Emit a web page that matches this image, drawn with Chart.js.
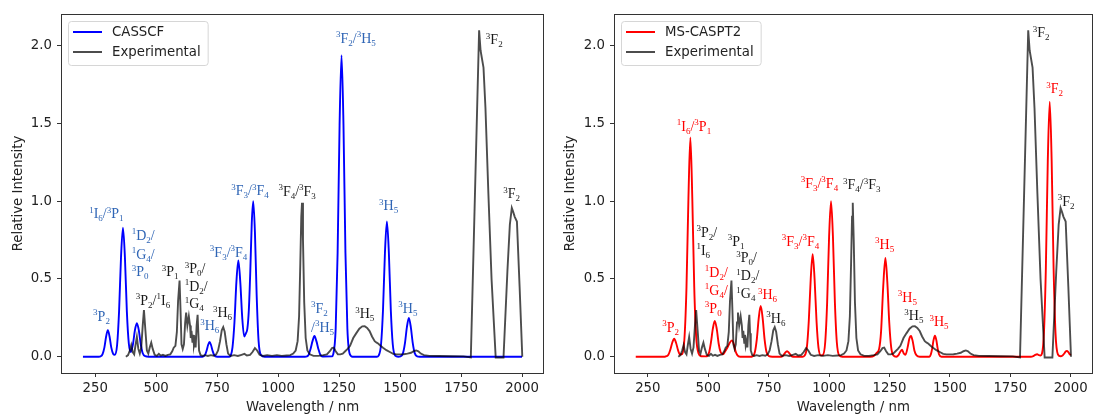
<!DOCTYPE html>
<html>
<head>
<meta charset="utf-8">
<script src="https://cdn.jsdelivr.net/npm/chart.js@4.4.1/dist/chart.umd.min.js"></script>
<style>
  body { margin: 0; background: #fff; }
  #wrap { position: relative; width: 1094px; height: 416px; }
  .panel { position: absolute; top: 0; width: 547px; height: 416px; }
</style>
</head>
<body>
<div id="wrap">
  <div class="panel" style="left:0"><canvas id="leftChart" width="547" height="416"></canvas></div>
  <div class="panel" style="left:547px"><canvas id="rightChart" width="547" height="416"></canvas></div>
</div>
<script>
// wavelength (nm), relative intensity
var expPoints = [
  [376,0.0],[385,0.01],[392,0.04],[398,0.075],[404,0.03],[410,0.015],[416,0.08],[421,0.127],[427,0.05],
  [433,0.02],[439,0.06],[445,0.2],[450,0.30],[456,0.17],[462,0.04],[468,0.02],[474,0.06],[480,0.09],
  [486,0.05],[494,0.012],[503,0.005],[511,0.018],[519,0.006],[528,0.012],[538,0.005],[548,0.012],
  [558,0.015],[566,0.035],[572,0.058],[579,0.07],[585,0.16],[590,0.36],[596,0.49],[600,0.3],[604,0.08],
  [609,0.05],[614,0.08],[619,0.22],[623,0.284],[628,0.2],[634,0.26],[639,0.2],[642,0.12],[645,0.166],
  [649,0.09],[652,0.14],[655,0.07],[659,0.1],[662,0.06],[666,0.2],[670,0.27],[673,0.15],[676,0.04],
  [682,0.01],[690,0.005],[700,0.01],[712,0.005],[724,0.01],[736,0.006],[746,0.015],[754,0.04],[762,0.1],
  [769,0.17],[775,0.19],[781,0.16],[788,0.08],[795,0.02],[805,0.005],[820,0.01],[835,0.005],[850,0.012],
  [862,0.018],[872,0.008],[885,0.012],[895,0.03],[905,0.055],[914,0.04],[924,0.012],[938,0.005],
  [955,0.01],[975,0.005],[995,0.01],[1015,0.005],[1035,0.008],[1050,0.01],[1062,0.02],[1072,0.04],
  [1080,0.1],[1086,0.26],[1091,0.6],[1095,0.9],[1098,0.99],[1102,0.75],[1107,0.35],[1113,0.12],
  [1120,0.04],[1130,0.015],[1145,0.005],[1165,0.005],[1185,0.01],[1200,0.015],[1212,0.035],[1221,0.055],
  [1228,0.058],[1236,0.035],[1245,0.015],[1255,0.015],[1265,0.02],[1275,0.035],[1285,0.05],[1295,0.07],
  [1308,0.12],[1320,0.15],[1333,0.18],[1345,0.195],[1355,0.196],[1365,0.185],[1375,0.165],[1385,0.13],
  [1396,0.1],[1404,0.09],[1410,0.085],[1420,0.07],[1430,0.058],[1444,0.042],[1458,0.03],[1472,0.018],
  [1486,0.015],[1500,0.015],[1515,0.016],[1530,0.02],[1545,0.025],[1556,0.035],[1566,0.04],[1575,0.035],
  [1585,0.02],[1598,0.01],[1620,0.005],[1660,0.004],[1710,0.003],[1760,0.002],[1790,-0.005],[1824,2.1],
  [1830,1.97],[1842,1.86],[1850,1.6],[1862,1.05],[1875,0.5],[1892,-0.005],[1924,-0.005],[1940,0.55],
  [1950,0.85],[1958,0.957],[1964,0.93],[1970,0.9],[1979,0.87],[1990,0.45],[2001,0.0]
];

var casscfPoints = [
  [200,0],[265,0],[272,0.002],[280,0.015],[288,0.06],[295,0.13],[302,0.17],[309,0.13],[316,0.06],
  [324,0.018],[331,0.012],[340,0.075],[348,0.29],[356,0.64],[364,0.83],[372,0.64],[380,0.29],[388,0.085],
  [396,0.03],[405,0.08],[413,0.17],[421,0.215],[429,0.17],[437,0.08],[445,0.022],[455,0.003],[470,0],
  [690,0],[700,0.01],[707,0.04],[713,0.075],[719,0.095],[725,0.075],[731,0.04],[738,0.01],[750,0],
  [800,0],[806,0.008],[813,0.06],[821,0.22],[829,0.48],[837,0.62],[845,0.48],[853,0.25],[861,0.13],
  [868,0.15],[874,0.18],[880,0.3],[886,0.55],[892,0.86],[898,1.0],[905,0.8],[912,0.4],[920,0.1],
  [930,0.01],[945,0],[1110,0],[1118,0.002],[1125,0.012],[1133,0.05],[1141,0.1],[1149,0.133],[1157,0.1],
  [1165,0.05],[1173,0.012],[1183,0.001],[1220,0.002],[1226,0.016],[1236,0.18],[1244,0.67],[1252,1.49],
  [1260,1.94],[1268,1.49],[1276,0.67],[1284,0.18],[1294,0.016],[1305,0],[1405,0],[1412,0.007],
  [1422,0.08],[1430,0.3],[1438,0.67],[1446,0.87],[1454,0.67],[1462,0.3],[1470,0.08],[1480,0.007],
  [1492,0],[1502,0.002],[1512,0.023],[1520,0.087],[1528,0.19],[1536,0.25],[1544,0.19],[1552,0.087],
  [1560,0.023],[1570,0.002],[1580,0],[2000,0]
];

var caspt2Points = [
  [200,0],[320,0],[327,0.003],[335,0.012],[343,0.045],[351,0.09],[359,0.115],[367,0.088],[375,0.042],
  [383,0.014],[392,0.016],[402,0.13],[410,0.45],[418,1.02],[426,1.41],[434,1.02],[442,0.45],[450,0.13],
  [460,0.02],[470,0.003],[490,0.002],[497,0.006],[504,0.03],[511,0.09],[519,0.18],[527,0.23],[535,0.18],
  [543,0.085],[551,0.03],[561,0.015],[570,0.035],[580,0.06],[589,0.09],[598,0.105],[606,0.08],
  [613,0.035],[621,0.008],[632,0],[680,0],[685,0.003],[693,0.03],[701,0.113],[709,0.25],[717,0.327],
  [725,0.25],[733,0.113],[741,0.03],[751,0.003],[765,0],[800,0],[810,0.008],[818,0.025],[826,0.035],
  [834,0.025],[842,0.008],[852,0],[890,0],[898,0.006],[908,0.06],[916,0.23],[924,0.5],[932,0.66],
  [940,0.5],[948,0.23],[956,0.06],[966,0.008],[974,0.01],[984,0.093],[992,0.35],[1000,0.77],[1008,1.0],
  [1016,0.77],[1024,0.35],[1032,0.093],[1042,0.008],[1055,0],[1170,0],[1185,0.005],[1197,0.025],
  [1207,0.05],[1215,0.16],[1224,0.45],[1233,0.635],[1241,0.48],[1249,0.22],[1257,0.06],[1266,0.008],
  [1278,0],[1288,0.012],[1296,0.035],[1302,0.045],[1309,0.02],[1316,0.012],[1325,0.06],[1332,0.115],
  [1339,0.133],[1346,0.1],[1353,0.04],[1362,0.008],[1375,0],[1415,0],[1421,0.015],[1427,0.055],
  [1432,0.105],[1438,0.135],[1444,0.105],[1449,0.055],[1455,0.015],[1465,0],[1835,0],[1845,0.004],
  [1853,0.012],[1861,0.016],[1868,0.01],[1875,0.008],[1881,0.02],[1889,0.15],[1897,0.57],[1905,1.26],
  [1913,1.64],[1921,1.26],[1929,0.57],[1937,0.15],[1947,0.014],[1958,0.003],[1966,0.008],[1973,0.02],
  [1979,0.033],[1984,0.037],[1990,0.03],[1996,0.015],[2000,0.01]
];

var xTicks = [250, 500, 750, 1000, 1250, 1500, 1750, 2000];
var yTicks = [0, 0.5, 1.0, 1.5, 2.0];

var BLUE_TXT = '#2f65b5', RED_TXT = '#ff0000', BLK_TXT = '#1a1a1a';

// peak assignments: text, wavelength, intensity, colour, align
var leftLabels = [
  ['¹I₆/³P₁', 296, 0.92, BLUE_TXT, 'center'],
  ['¹D₂/', 400, 0.78, BLUE_TXT, 'left'],
  ['¹G₄/', 400, 0.66, BLUE_TXT, 'left'],
  ['³P₀', 400, 0.545, BLUE_TXT, 'left'],
  ['³P₂', 276, 0.26, BLUE_TXT, 'center'],
  ['³P₂/¹I₆', 487, 0.362, BLK_TXT, 'center'],
  ['³P₁', 557, 0.545, BLK_TXT, 'center'],
  ['³P₀/', 617, 0.565, BLK_TXT, 'left'],
  ['¹D₂/', 617, 0.452, BLK_TXT, 'left'],
  ['¹G₄', 617, 0.34, BLK_TXT, 'left'],
  ['³H₆', 720, 0.2, BLUE_TXT, 'center'],
  ['³H₆', 772, 0.282, BLK_TXT, 'center'],
  ['³F₃/³F₄', 797, 0.671, BLUE_TXT, 'center'],
  ['³F₃/³F₄', 885, 1.069, BLUE_TXT, 'center'],
  ['³F₄/³F₃', 1078, 1.065, BLK_TXT, 'center'],
  ['³F₂/³H₅', 1319, 2.048, BLUE_TXT, 'center'],
  ['³F₂', 1886, 2.04, BLK_TXT, 'center'],
  ['³F₂', 1957, 1.05, BLK_TXT, 'center'],
  ['³H₅', 1453, 0.972, BLUE_TXT, 'center'],
  ['³F₂', 1135, 0.312, BLUE_TXT, 'left'],
  ['/³H₅', 1135, 0.19, BLUE_TXT, 'left'],
  ['³H₅', 1355, 0.277, BLK_TXT, 'center'],
  ['³H₅', 1532, 0.312, BLUE_TXT, 'center']
];

var rightLabels = [
  ['¹I₆/³P₁', 441, 1.482, RED_TXT, 'center'],
  ['³P₂', 344, 0.19, RED_TXT, 'center'],
  ['³P₂/', 451, 0.8, BLK_TXT, 'left'],
  ['¹I₆', 451, 0.686, BLK_TXT, 'left'],
  ['¹D₂/', 486, 0.542, RED_TXT, 'left'],
  ['¹G₄/', 486, 0.428, RED_TXT, 'left'],
  ['³P₀', 486, 0.312, RED_TXT, 'left'],
  ['³P₁', 615, 0.742, BLK_TXT, 'center'],
  ['³P₀/', 616, 0.635, BLK_TXT, 'left'],
  ['¹D₂/', 616, 0.52, BLK_TXT, 'left'],
  ['¹G₄', 616, 0.406, BLK_TXT, 'left'],
  ['³H₆', 745, 0.398, RED_TXT, 'center'],
  ['³H₆', 780, 0.248, BLK_TXT, 'center'],
  ['³F₃/³F₄', 882, 0.742, RED_TXT, 'center'],
  ['³F₃/³F₄', 960, 1.116, RED_TXT, 'center'],
  ['³F₄/³F₃', 1135, 1.106, BLK_TXT, 'center'],
  ['³F₂', 1877, 2.084, BLK_TXT, 'center'],
  ['³F₂', 1933, 1.725, RED_TXT, 'center'],
  ['³F₂', 1981, 1.0, BLK_TXT, 'center'],
  ['³H₅', 1230, 0.725, RED_TXT, 'center'],
  ['³H₅', 1324, 0.381, RED_TXT, 'center'],
  ['³H₅', 1351, 0.263, BLK_TXT, 'center'],
  ['³H₅', 1455, 0.226, RED_TXT, 'center']
];

var SANS = 'DejaVu Sans';
var SERIF = '"Liberation Serif", "DejaVu Serif", serif';
var SUP = { '¹': '1', '²': '2', '³': '3' };
var SUB = { '₀': '0', '₁': '1', '₂': '2', '₃': '3', '₄': '4', '₅': '5', '₆': '6' };

function toXY(pts) {
  return pts.map(function (p) { return { x: p[0], y: p[1] }; });
}

// draws "³F₂"-style text with real raised / lowered digits
function drawRich(ctx, text, x, y, color, align) {
  var parts = Array.from(text).map(function (ch) {
    if (SUP[ch]) return { s: SUP[ch], dy: -5.5, small: true };
    if (SUB[ch]) return { s: SUB[ch], dy: 3, small: true };
    return { s: ch, dy: 0, small: false };
  });
  var total = 0;
  parts.forEach(function (p) {
    ctx.font = p.small ? '9px ' + SERIF : '14px ' + SERIF;
    p.w = ctx.measureText(p.s).width;
    total += p.w;
  });
  var cx = align === 'left' ? x : x - total / 2;
  ctx.fillStyle = color;
  ctx.textAlign = 'left';
  ctx.textBaseline = 'alphabetic';
  parts.forEach(function (p) {
    ctx.font = p.small ? '9px ' + SERIF : '14px ' + SERIF;
    ctx.fillText(p.s, cx, y + 4.5 + p.dy);
    cx += p.w;
  });
}

var framePlugin = {
  id: 'frame',
  afterDraw: function (chart) {
    var a = chart.chartArea, ctx = chart.ctx;
    ctx.save();
    ctx.strokeStyle = '#333';
    ctx.lineWidth = 1;
    ctx.strokeRect(Math.round(a.left) + 0.5, Math.round(a.top) + 0.5,
      Math.round(a.right - a.left) - 1, Math.round(a.bottom - a.top));
    ctx.restore();
  }
};

var peakLabelPlugin = {
  id: 'peakLabels',
  afterDraw: function (chart, args, opts) {
    var ctx = chart.ctx, xs = chart.scales.x, ys = chart.scales.y;
    ctx.save();
    opts.items.forEach(function (l) {
      drawRich(ctx, l[0], xs.getPixelForValue(l[1]), ys.getPixelForValue(l[2]), l[3], l[4]);
    });
    ctx.restore();
  }
};

// matplotlib-like legend box in the upper left corner
var boxLegendPlugin = {
  id: 'boxLegend',
  afterDraw: function (chart) {
    var ctx = chart.ctx, a = chart.chartArea;
    var sets = chart.data.datasets.slice().sort(function (p, q) { return p.legendRank - q.legendRank; });
    ctx.save();
    ctx.font = '13.3px ' + SANS;
    var tw = 0;
    sets.forEach(function (d) { tw = Math.max(tw, ctx.measureText(d.label).width); });
    var x0 = a.left + 7, y0 = a.top + 7, w = 44 + tw + 7, h = 44;
    ctx.beginPath();
    ctx.roundRect(x0 + 0.5, y0 + 0.5, w, h, 3);
    ctx.fillStyle = 'rgba(255,255,255,0.8)';
    ctx.fill();
    ctx.strokeStyle = '#d6d6d6';
    ctx.lineWidth = 1;
    ctx.stroke();
    sets.forEach(function (d, i) {
      var ly = y0 + 11 + i * 20;
      ctx.beginPath();
      ctx.moveTo(x0 + 5, ly);
      ctx.lineTo(x0 + 34, ly);
      ctx.strokeStyle = d.borderColor;
      ctx.lineWidth = 2;
      ctx.stroke();
      ctx.fillStyle = '#222';
      ctx.textAlign = 'left';
      ctx.textBaseline = 'middle';
      ctx.fillText(d.label, x0 + 44, ly + 1);
    });
    ctx.restore();
  }
};

function makeChart(canvasId, modelLabel, modelPoints, modelColor, labels, yAxisWidth, rightPad, yTitlePad) {
  var ctx = document.getElementById(canvasId).getContext('2d');
  return new Chart(ctx, {
    type: 'line',
    data: {
      datasets: [
        {
          label: 'Experimental',
          data: toXY(expPoints),
          borderColor: 'rgba(0,0,0,0.7)',
          borderWidth: 1.9,
          pointRadius: 0,
          tension: 0,
          order: 0,
          legendRank: 1
        },
        {
          label: modelLabel,
          data: toXY(modelPoints),
          borderColor: modelColor,
          borderWidth: 1.9,
          pointRadius: 0,
          cubicInterpolationMode: 'monotone',
          order: 1,
          legendRank: 0
        }
      ]
    },
    options: {
      responsive: false,
      animation: false,
      devicePixelRatio: 1,
      layout: { padding: { left: 0, right: rightPad, top: 14, bottom: 0 } },
      plugins: {
        legend: { display: false },
        tooltip: { enabled: false },
        peakLabels: { items: labels }
      },
      scales: {
        x: {
          type: 'linear',
          min: 110,
          max: 2090,
          afterBuildTicks: function (scale) {
            scale.ticks = xTicks.map(function (v) { return { value: v }; });
          },
          afterFit: function (scale) { scale.height = 43; },
          grid: { drawOnChartArea: false, drawTicks: true, tickLength: 4, color: '#333' },
          border: { display: false },
          ticks: {
            color: '#222', font: { family: SANS, size: 13.3 }, padding: 4, maxRotation: 0,
            callback: function (v) { return String(v); }
          },
          title: {
            display: true, text: 'Wavelength / nm', color: '#222',
            font: { family: SANS, size: 13.3 }, padding: { top: 0, bottom: 0 }
          }
        },
        y: {
          min: -0.105,
          max: 2.205,
          afterBuildTicks: function (scale) {
            scale.ticks = yTicks.map(function (v) { return { value: v }; });
          },
          afterFit: function (scale) { scale.width = yAxisWidth; },
          grid: { drawOnChartArea: false, drawTicks: true, tickLength: 4, color: '#333' },
          border: { display: false },
          ticks: {
            color: '#222', font: { family: SANS, size: 13.3 }, padding: 5,
            callback: function (v) { return Number(v).toFixed(1); }
          },
          title: {
            display: true, text: 'Relative Intensity', color: '#222',
            font: { family: SANS, size: 13.3 }, padding: { top: yTitlePad, bottom: 0 }
          }
        }
      }
    },
    plugins: [framePlugin, peakLabelPlugin, boxLegendPlugin]
  });
}

makeChart('leftChart', 'CASSCF', casscfPoints, '#0000ff', leftLabels, 61, 3, 11);
makeChart('rightChart', 'MS-CASPT2', caspt2Points, '#ff0000', rightLabels, 67, 1.5, 16);
</script>
</body>
</html>
